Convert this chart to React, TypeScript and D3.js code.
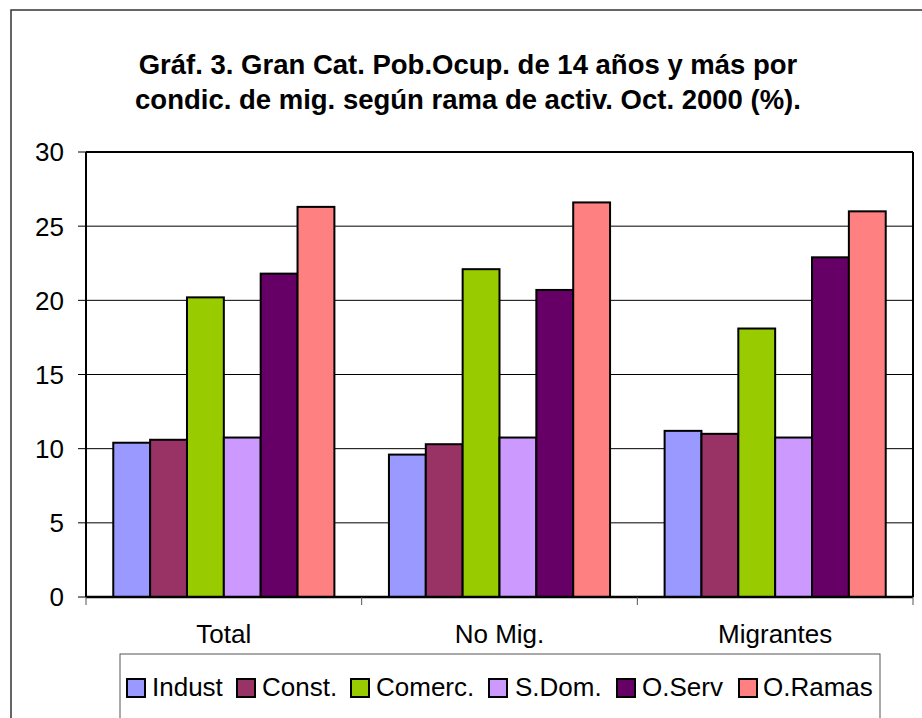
import React from "react";
import * as d3 from "d3";

const categories = ["Total", "No Mig.", "Migrantes"];
const seriesNames = ["Indust", "Const.", "Comerc.", "S.Dom.", "O.Serv", "O.Ramas"];
const seriesColors = ["#9999FF", "#993366", "#99CC00", "#CC99FF", "#660066", "#FF8080"];
const indust = [10.4, 9.6, 11.2];
const constr = [10.6, 10.3, 11.0];
const comerc = [20.2, 22.1, 18.1];
const sdom = [10.75, 10.75, 10.75];
const oserv = [21.8, 20.7, 22.9];
const oramas = [26.3, 26.6, 26.0];
const seriesValues = [indust, constr, comerc, sdom, oserv, oramas];
const yTicks = [0, 5, 10, 15, 20, 25, 30];
const titleLines = [
  "Gráf. 3. Gran Cat. Pob.Ocup. de 14 años y más por",
  "condic. de mig. según rama de activ. Oct. 2000 (%).",
];

const W = 922;
const H = 718;
const plot = { left: 86, right: 913, top: 152, bottom: 597 };
const font = "Arial, 'Liberation Sans', sans-serif";

export default function App() {
  const x0 = d3.scaleBand<string>().domain(categories).range([plot.left, plot.right]).paddingInner(0).paddingOuter(0);
  const x1 = d3.scaleBand<string>().domain(seriesNames).range([0, x0.bandwidth()]).paddingInner(0).paddingOuter(0.74);
  const y = d3.scaleLinear().domain([0, 30]).range([plot.bottom, plot.top]);

  const legendItems = [
    { sx: 127, tx: 152 },
    { sx: 237, tx: 262 },
    { sx: 351, tx: 376 },
    { sx: 489, tx: 515 },
    { sx: 617, tx: 642 },
    { sx: 739, tx: 763 },
  ];

  const catBounds = [plot.left, ...categories.map((c) => (x0(c) as number) + x0.bandwidth())];

  return (
    <svg width={W} height={H} style={{ position: "absolute", left: 0, top: 0, background: "#fff" }}>
      <rect x={0} y={0} width={W} height={H} fill="#fff" />
      {/* outer chart border */}
      <rect x={11} y={10} width={W + 20} height={H + 20} fill="none" stroke="#333" strokeWidth={1.5} />

      {/* title */}
      {titleLines.map((t, i) => (
        <text key={i} x={468} y={74 + i * 35} textAnchor="middle" fontFamily={font} fontWeight="bold" fontSize={27.5}>
          {t}
        </text>
      ))}

      {/* gridlines */}
      {yTicks.filter((t) => t > 0 && t < 30).map((t) => (
        <line key={t} x1={plot.left} x2={plot.right} y1={y(t)} y2={y(t)} stroke="#000" strokeWidth={1} />
      ))}

      {/* plot border top/right */}
      <line x1={plot.left} x2={plot.right} y1={y(30)} y2={y(30)} stroke="#000" strokeWidth={2} />
      <line x1={plot.right} x2={plot.right} y1={plot.top} y2={plot.bottom} stroke="#000" strokeWidth={2} />

      {/* bars */}
      {categories.map((c, ci) => (
        <g key={c} transform={`translate(${x0(c)},0)`}>
          {seriesNames.map((s, si) => (
            <rect
              key={s}
              x={x1(s)}
              y={y(seriesValues[si][ci])}
              width={x1.bandwidth()}
              height={y(0) - y(seriesValues[si][ci])}
              fill={seriesColors[si]}
              stroke="#000"
              strokeWidth={2}
            />
          ))}
        </g>
      ))}

      {/* y axis */}
      <line x1={plot.left} x2={plot.left} y1={plot.top} y2={plot.bottom} stroke="#000" strokeWidth={2} />
      {yTicks.map((t) => (
        <g key={t}>
          <line x1={plot.left - 8} x2={plot.left} y1={y(t)} y2={y(t)} stroke="#000" strokeWidth={1} />
          <text x={64} y={y(t)} dy="0.36em" textAnchor="end" fontFamily={font} fontSize={26}>
            {t}
          </text>
        </g>
      ))}

      {/* x axis */}
      <line x1={plot.left} x2={plot.right} y1={plot.bottom} y2={plot.bottom} stroke="#000" strokeWidth={2.5} />
      {catBounds.map((b, i) => (
        <line key={i} x1={b} x2={b} y1={plot.bottom} y2={plot.bottom + 8} stroke="#555" strokeWidth={1} />
      ))}
      {categories.map((c) => (
        <text key={c} x={(x0(c) as number) + x0.bandwidth() / 2} y={643} textAnchor="middle" fontFamily={font} fontSize={26}>
          {c}
        </text>
      ))}

      {/* legend */}
      <rect x={120} y={654} width={760} height={90} fill="#fff" stroke="#555" strokeWidth={1} />
      {seriesNames.map((s, i) => (
        <g key={s}>
          <rect x={legendItems[i].sx} y={679} width={18} height={18} fill={seriesColors[i]} stroke="#000" strokeWidth={2} />
          <text x={legendItems[i].tx} y={696} fontFamily={font} fontSize={26}>
            {s}
          </text>
        </g>
      ))}
    </svg>
  );
}
